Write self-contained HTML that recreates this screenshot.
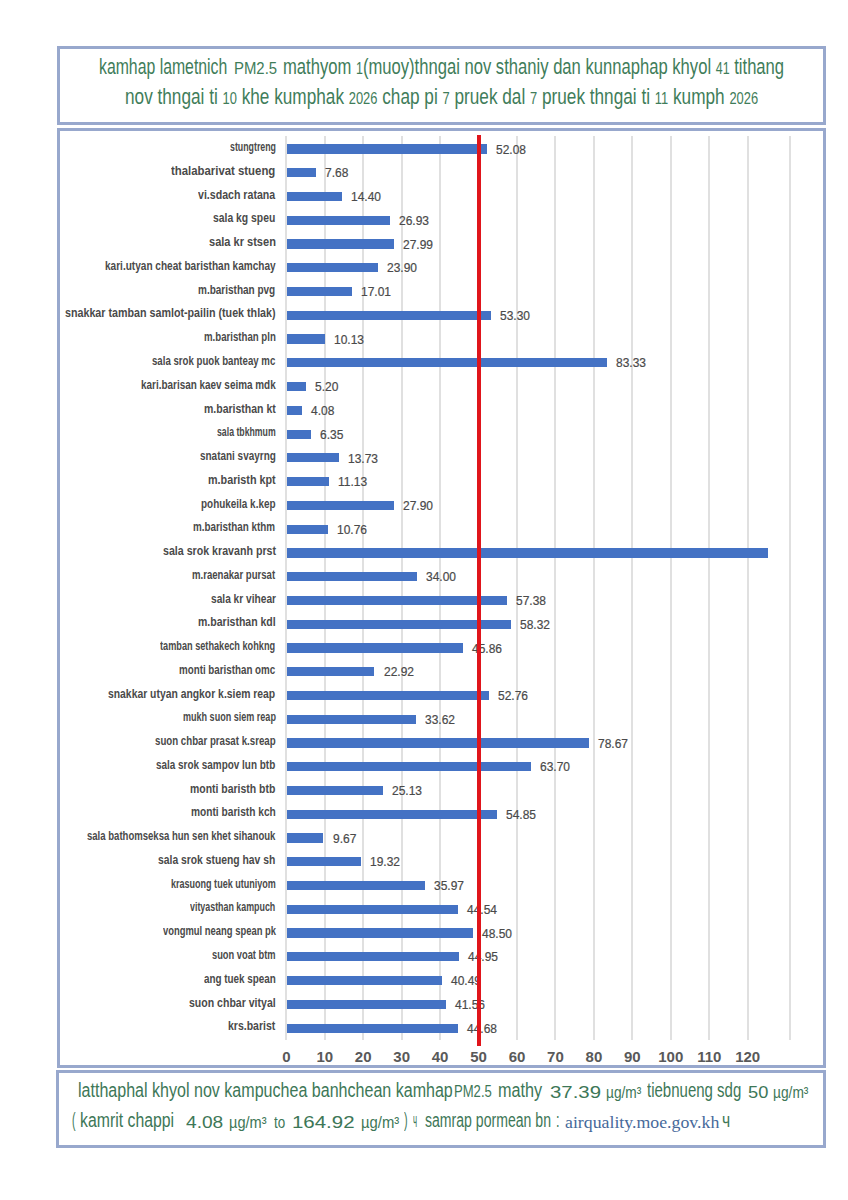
<!DOCTYPE html><html><head><meta charset="utf-8"><title>PM2.5 hourly average</title><style>
*{margin:0;padding:0;box-sizing:border-box}
html,body{width:848px;height:1200px;background:#fff;overflow:hidden}
body{position:relative;font-family:"Liberation Sans",sans-serif}
.box{position:absolute;border:3.5px solid #98a8cd}
.s{position:absolute;white-space:nowrap;transform-origin:0 0}
.gl{position:absolute;top:136px;height:904px;width:2px;background:#e0e0e0}
.d{font-size:0.75em}
.bar{position:absolute;height:9.2px;background:#4472c4}
</style></head><body>
<div class="box" style="left:57px;top:46px;width:769px;height:78.5px"></div>
<div class="box" style="left:57px;top:128px;width:769px;height:940px;border-width:3px"></div>
<div class="box" style="left:56px;top:1070px;width:770px;height:78px;border-width:3px"></div>
<div id="s1" class="s" style="left:98.80px;top:53.20px;font-size:16.00px;line-height:19.20px;color:#3f7d5a;transform:scale(0.9881,1.4000);">kamhap lametnich</div>
<div id="s2" class="s" style="left:233.60px;top:57.93px;font-size:17.40px;line-height:20.88px;color:#3f7d5a;transform:scale(0.8574,1.0000);">PM2.5</div>
<div id="s3" class="s" style="left:283.20px;top:53.20px;font-size:16.00px;line-height:19.20px;color:#3f7d5a;transform:scale(1.0384,1.4000);">mathyom <span class=d>1</span>(muoy)thngai nov sthaniy dan kunnaphap khyol <span class=d>41</span> tithang</div>
<div id="s4" class="s" style="left:124.70px;top:82.50px;font-size:16.00px;line-height:19.20px;color:#3f7d5a;transform:scale(1.0750,1.4000);">nov thngai ti <span class=d>10</span> khe kumphak <span class=d>2026</span> chap pi <span class=d>7</span> pruek dal <span class=d>7</span> pruek thngai ti <span class=d>11</span> kumph <span class=d>2026</span></div>
<div class="gl" style="left:285.30px"></div>
<div class="gl" style="left:323.75px"></div>
<div class="gl" style="left:362.20px"></div>
<div class="gl" style="left:400.65px"></div>
<div class="gl" style="left:439.10px"></div>
<div class="gl" style="left:477.55px"></div>
<div class="gl" style="left:516.00px"></div>
<div class="gl" style="left:554.45px"></div>
<div class="gl" style="left:592.90px"></div>
<div class="gl" style="left:631.35px"></div>
<div class="gl" style="left:669.80px"></div>
<div class="gl" style="left:708.25px"></div>
<div class="gl" style="left:746.70px"></div>
<div class="gl" style="left:789px"></div>
<div class="bar" style="left:286.80px;top:144.40px;width:199.75px"></div>
<div id="s5" class="s" style="left:495.75px;top:142.64px;font-size:12.00px;line-height:14.40px;color:#4a4a4a;-webkit-text-stroke:0.20px #4a4a4a;transform:scale(0.9995,1.0000);">52.08</div>
<div id="s6" class="s" style="left:229.50px;top:140.14px;font-size:12.00px;line-height:14.40px;color:#4a4a4a;font-weight:bold;transform:scale(0.7340,1.0000);">stungtreng</div>
<div class="bar" style="left:286.80px;top:168.16px;width:29.03px"></div>
<div id="s7" class="s" style="left:325.03px;top:166.40px;font-size:12.00px;line-height:14.40px;color:#4a4a4a;-webkit-text-stroke:0.20px #4a4a4a;transform:scale(0.9993,1.0000);">7.68</div>
<div id="s8" class="s" style="left:171.20px;top:163.90px;font-size:12.00px;line-height:14.40px;color:#4a4a4a;font-weight:bold;transform:scale(0.9479,1.0000);">thalabarivat stueng</div>
<div class="bar" style="left:286.80px;top:191.92px;width:54.87px"></div>
<div id="s9" class="s" style="left:350.87px;top:190.16px;font-size:12.00px;line-height:14.40px;color:#4a4a4a;-webkit-text-stroke:0.20px #4a4a4a;transform:scale(0.9995,1.0000);">14.40</div>
<div id="s10" class="s" style="left:198.30px;top:187.66px;font-size:12.00px;line-height:14.40px;color:#4a4a4a;font-weight:bold;transform:scale(0.8835,1.0000);">vi.sdach ratana</div>
<div class="bar" style="left:286.80px;top:215.68px;width:103.05px"></div>
<div id="s11" class="s" style="left:399.05px;top:213.92px;font-size:12.00px;line-height:14.40px;color:#4a4a4a;-webkit-text-stroke:0.20px #4a4a4a;transform:scale(0.9995,1.0000);">26.93</div>
<div id="s12" class="s" style="left:213.20px;top:211.42px;font-size:12.00px;line-height:14.40px;color:#4a4a4a;font-weight:bold;transform:scale(0.8647,1.0000);">sala kg speu</div>
<div class="bar" style="left:286.80px;top:239.44px;width:107.12px"></div>
<div id="s13" class="s" style="left:403.12px;top:237.68px;font-size:12.00px;line-height:14.40px;color:#4a4a4a;-webkit-text-stroke:0.20px #4a4a4a;transform:scale(0.9995,1.0000);">27.99</div>
<div id="s14" class="s" style="left:208.60px;top:235.18px;font-size:12.00px;line-height:14.40px;color:#4a4a4a;font-weight:bold;transform:scale(0.9200,1.0000);">sala kr stsen</div>
<div class="bar" style="left:286.80px;top:263.20px;width:91.40px"></div>
<div id="s15" class="s" style="left:387.40px;top:261.44px;font-size:12.00px;line-height:14.40px;color:#4a4a4a;-webkit-text-stroke:0.20px #4a4a4a;transform:scale(0.9995,1.0000);">23.90</div>
<div id="s16" class="s" style="left:104.80px;top:258.94px;font-size:12.00px;line-height:14.40px;color:#4a4a4a;font-weight:bold;transform:scale(0.8391,1.0000);">kari.utyan cheat baristhan kamchay</div>
<div class="bar" style="left:286.80px;top:286.96px;width:64.90px"></div>
<div id="s17" class="s" style="left:360.90px;top:285.20px;font-size:12.00px;line-height:14.40px;color:#4a4a4a;-webkit-text-stroke:0.20px #4a4a4a;transform:scale(0.9995,1.0000);">17.01</div>
<div id="s18" class="s" style="left:198.30px;top:282.70px;font-size:12.00px;line-height:14.40px;color:#4a4a4a;font-weight:bold;transform:scale(0.8329,1.0000);">m.baristhan pvg</div>
<div class="bar" style="left:286.80px;top:310.72px;width:204.44px"></div>
<div id="s19" class="s" style="left:500.44px;top:308.96px;font-size:12.00px;line-height:14.40px;color:#4a4a4a;-webkit-text-stroke:0.20px #4a4a4a;transform:scale(0.9995,1.0000);">53.30</div>
<div id="s20" class="s" style="left:64.90px;top:306.46px;font-size:12.00px;line-height:14.40px;color:#4a4a4a;font-weight:bold;transform:scale(0.8921,1.0000);">snakkar tamban samlot-pailin (tuek thlak)</div>
<div class="bar" style="left:286.80px;top:334.48px;width:38.45px"></div>
<div id="s21" class="s" style="left:334.45px;top:332.72px;font-size:12.00px;line-height:14.40px;color:#4a4a4a;-webkit-text-stroke:0.20px #4a4a4a;transform:scale(0.9995,1.0000);">10.13</div>
<div id="s22" class="s" style="left:203.70px;top:330.22px;font-size:12.00px;line-height:14.40px;color:#4a4a4a;font-weight:bold;transform:scale(0.8036,1.0000);">m.baristhan pln</div>
<div class="bar" style="left:286.80px;top:358.24px;width:319.90px"></div>
<div id="s23" class="s" style="left:615.90px;top:356.48px;font-size:12.00px;line-height:14.40px;color:#4a4a4a;-webkit-text-stroke:0.20px #4a4a4a;transform:scale(0.9995,1.0000);">83.33</div>
<div id="s24" class="s" style="left:152.20px;top:353.98px;font-size:12.00px;line-height:14.40px;color:#4a4a4a;font-weight:bold;transform:scale(0.8037,1.0000);">sala srok puok banteay mc</div>
<div class="bar" style="left:286.80px;top:382.00px;width:19.49px"></div>
<div id="s25" class="s" style="left:315.49px;top:380.24px;font-size:12.00px;line-height:14.40px;color:#4a4a4a;-webkit-text-stroke:0.20px #4a4a4a;transform:scale(0.9993,1.0000);">5.20</div>
<div id="s26" class="s" style="left:140.80px;top:377.74px;font-size:12.00px;line-height:14.40px;color:#4a4a4a;font-weight:bold;transform:scale(0.8275,1.0000);">kari.barisan kaev seima mdk</div>
<div class="bar" style="left:286.80px;top:405.76px;width:15.19px"></div>
<div id="s27" class="s" style="left:311.19px;top:404.00px;font-size:12.00px;line-height:14.40px;color:#4a4a4a;-webkit-text-stroke:0.20px #4a4a4a;transform:scale(0.9993,1.0000);">4.08</div>
<div id="s28" class="s" style="left:203.70px;top:401.50px;font-size:12.00px;line-height:14.40px;color:#4a4a4a;font-weight:bold;transform:scale(0.8753,1.0000);">m.baristhan kt</div>
<div class="bar" style="left:286.80px;top:429.52px;width:23.92px"></div>
<div id="s29" class="s" style="left:319.92px;top:427.76px;font-size:12.00px;line-height:14.40px;color:#4a4a4a;-webkit-text-stroke:0.20px #4a4a4a;transform:scale(0.9993,1.0000);">6.35</div>
<div id="s30" class="s" style="left:216.80px;top:425.26px;font-size:12.00px;line-height:14.40px;color:#4a4a4a;font-weight:bold;transform:scale(0.7274,1.0000);">sala tbkhmum</div>
<div class="bar" style="left:286.80px;top:453.28px;width:52.29px"></div>
<div id="s31" class="s" style="left:348.29px;top:451.52px;font-size:12.00px;line-height:14.40px;color:#4a4a4a;-webkit-text-stroke:0.20px #4a4a4a;transform:scale(0.9995,1.0000);">13.73</div>
<div id="s32" class="s" style="left:199.70px;top:449.02px;font-size:12.00px;line-height:14.40px;color:#4a4a4a;font-weight:bold;transform:scale(0.8295,1.0000);">snatani svayrng</div>
<div class="bar" style="left:286.80px;top:477.04px;width:42.29px"></div>
<div id="s33" class="s" style="left:338.29px;top:475.28px;font-size:12.00px;line-height:14.40px;color:#4a4a4a;-webkit-text-stroke:0.20px #4a4a4a;transform:scale(0.9995,1.0000);">11.13</div>
<div id="s34" class="s" style="left:207.80px;top:472.78px;font-size:12.00px;line-height:14.40px;color:#4a4a4a;font-weight:bold;transform:scale(0.8984,1.0000);">m.baristh kpt</div>
<div class="bar" style="left:286.80px;top:500.80px;width:106.78px"></div>
<div id="s35" class="s" style="left:402.78px;top:499.04px;font-size:12.00px;line-height:14.40px;color:#4a4a4a;-webkit-text-stroke:0.20px #4a4a4a;transform:scale(0.9995,1.0000);">27.90</div>
<div id="s36" class="s" style="left:201.00px;top:496.54px;font-size:12.00px;line-height:14.40px;color:#4a4a4a;font-weight:bold;transform:scale(0.8275,1.0000);">pohukeila k.kep</div>
<div class="bar" style="left:286.80px;top:524.56px;width:40.87px"></div>
<div id="s37" class="s" style="left:336.87px;top:522.80px;font-size:12.00px;line-height:14.40px;color:#4a4a4a;-webkit-text-stroke:0.20px #4a4a4a;transform:scale(0.9995,1.0000);">10.76</div>
<div id="s38" class="s" style="left:193.40px;top:520.30px;font-size:12.00px;line-height:14.40px;color:#4a4a4a;font-weight:bold;transform:scale(0.8207,1.0000);">m.baristhan kthm</div>
<div class="bar" style="left:286.80px;top:548.32px;width:481.10px"></div>
<div id="s39" class="s" style="left:162.50px;top:544.06px;font-size:12.00px;line-height:14.40px;color:#4a4a4a;font-weight:bold;transform:scale(0.8869,1.0000);">sala srok kravanh prst</div>
<div class="bar" style="left:286.80px;top:572.08px;width:130.23px"></div>
<div id="s40" class="s" style="left:426.23px;top:570.32px;font-size:12.00px;line-height:14.40px;color:#4a4a4a;-webkit-text-stroke:0.20px #4a4a4a;transform:scale(0.9995,1.0000);">34.00</div>
<div id="s41" class="s" style="left:192.40px;top:567.82px;font-size:12.00px;line-height:14.40px;color:#4a4a4a;font-weight:bold;transform:scale(0.7986,1.0000);">m.raenakar pursat</div>
<div class="bar" style="left:286.80px;top:595.84px;width:220.13px"></div>
<div id="s42" class="s" style="left:516.13px;top:594.08px;font-size:12.00px;line-height:14.40px;color:#4a4a4a;-webkit-text-stroke:0.20px #4a4a4a;transform:scale(0.9995,1.0000);">57.38</div>
<div id="s43" class="s" style="left:210.50px;top:591.58px;font-size:12.00px;line-height:14.40px;color:#4a4a4a;font-weight:bold;transform:scale(0.8471,1.0000);">sala kr vihear</div>
<div class="bar" style="left:286.80px;top:619.60px;width:223.74px"></div>
<div id="s44" class="s" style="left:519.74px;top:617.84px;font-size:12.00px;line-height:14.40px;color:#4a4a4a;-webkit-text-stroke:0.20px #4a4a4a;transform:scale(0.9995,1.0000);">58.32</div>
<div id="s45" class="s" style="left:197.80px;top:615.34px;font-size:12.00px;line-height:14.40px;color:#4a4a4a;font-weight:bold;transform:scale(0.8761,1.0000);">m.baristhan kdl</div>
<div class="bar" style="left:286.80px;top:643.36px;width:175.83px"></div>
<div id="s46" class="s" style="left:471.83px;top:641.60px;font-size:12.00px;line-height:14.40px;color:#4a4a4a;-webkit-text-stroke:0.20px #4a4a4a;transform:scale(0.9995,1.0000);">45.86</div>
<div id="s47" class="s" style="left:160.40px;top:639.10px;font-size:12.00px;line-height:14.40px;color:#4a4a4a;font-weight:bold;transform:scale(0.7637,1.0000);">tamban sethakech kohkng</div>
<div class="bar" style="left:286.80px;top:667.12px;width:87.63px"></div>
<div id="s48" class="s" style="left:383.63px;top:665.36px;font-size:12.00px;line-height:14.40px;color:#4a4a4a;-webkit-text-stroke:0.20px #4a4a4a;transform:scale(0.9995,1.0000);">22.92</div>
<div id="s49" class="s" style="left:179.30px;top:662.86px;font-size:12.00px;line-height:14.40px;color:#4a4a4a;font-weight:bold;transform:scale(0.8151,1.0000);">monti baristhan omc</div>
<div class="bar" style="left:286.80px;top:690.88px;width:202.36px"></div>
<div id="s50" class="s" style="left:498.36px;top:689.12px;font-size:12.00px;line-height:14.40px;color:#4a4a4a;-webkit-text-stroke:0.20px #4a4a4a;transform:scale(0.9995,1.0000);">52.76</div>
<div id="s51" class="s" style="left:108.30px;top:686.62px;font-size:12.00px;line-height:14.40px;color:#4a4a4a;font-weight:bold;transform:scale(0.8644,1.0000);">snakkar utyan angkor k.siem reap</div>
<div class="bar" style="left:286.80px;top:714.64px;width:128.77px"></div>
<div id="s52" class="s" style="left:424.77px;top:712.88px;font-size:12.00px;line-height:14.40px;color:#4a4a4a;-webkit-text-stroke:0.20px #4a4a4a;transform:scale(0.9995,1.0000);">33.62</div>
<div id="s53" class="s" style="left:182.60px;top:710.38px;font-size:12.00px;line-height:14.40px;color:#4a4a4a;font-weight:bold;transform:scale(0.7530,1.0000);">mukh suon siem reap</div>
<div class="bar" style="left:286.80px;top:738.40px;width:301.99px"></div>
<div id="s54" class="s" style="left:597.99px;top:736.64px;font-size:12.00px;line-height:14.40px;color:#4a4a4a;-webkit-text-stroke:0.20px #4a4a4a;transform:scale(0.9995,1.0000);">78.67</div>
<div id="s55" class="s" style="left:154.90px;top:734.14px;font-size:12.00px;line-height:14.40px;color:#4a4a4a;font-weight:bold;transform:scale(0.8073,1.0000);">suon chbar prasat k.sreap</div>
<div class="bar" style="left:286.80px;top:762.16px;width:244.43px"></div>
<div id="s56" class="s" style="left:540.43px;top:760.40px;font-size:12.00px;line-height:14.40px;color:#4a4a4a;-webkit-text-stroke:0.20px #4a4a4a;transform:scale(0.9995,1.0000);">63.70</div>
<div id="s57" class="s" style="left:156.30px;top:757.90px;font-size:12.00px;line-height:14.40px;color:#4a4a4a;font-weight:bold;transform:scale(0.8275,1.0000);">sala srok sampov lun btb</div>
<div class="bar" style="left:286.80px;top:785.92px;width:96.12px"></div>
<div id="s58" class="s" style="left:392.12px;top:784.16px;font-size:12.00px;line-height:14.40px;color:#4a4a4a;-webkit-text-stroke:0.20px #4a4a4a;transform:scale(0.9995,1.0000);">25.13</div>
<div id="s59" class="s" style="left:190.20px;top:781.66px;font-size:12.00px;line-height:14.40px;color:#4a4a4a;font-weight:bold;transform:scale(0.8704,1.0000);">monti baristh btb</div>
<div class="bar" style="left:286.80px;top:809.68px;width:210.40px"></div>
<div id="s60" class="s" style="left:506.40px;top:807.92px;font-size:12.00px;line-height:14.40px;color:#4a4a4a;-webkit-text-stroke:0.20px #4a4a4a;transform:scale(0.9995,1.0000);">54.85</div>
<div id="s61" class="s" style="left:190.70px;top:805.42px;font-size:12.00px;line-height:14.40px;color:#4a4a4a;font-weight:bold;transform:scale(0.8479,1.0000);">monti baristh kch</div>
<div class="bar" style="left:286.80px;top:833.44px;width:36.68px"></div>
<div id="s62" class="s" style="left:332.68px;top:831.68px;font-size:12.00px;line-height:14.40px;color:#4a4a4a;-webkit-text-stroke:0.20px #4a4a4a;transform:scale(0.9993,1.0000);">9.67</div>
<div id="s63" class="s" style="left:87.10px;top:829.18px;font-size:12.00px;line-height:14.40px;color:#4a4a4a;font-weight:bold;transform:scale(0.7958,1.0000);">sala bathomseksa hun sen khet sihanouk</div>
<div class="bar" style="left:286.80px;top:857.20px;width:73.79px"></div>
<div id="s64" class="s" style="left:369.79px;top:855.44px;font-size:12.00px;line-height:14.40px;color:#4a4a4a;-webkit-text-stroke:0.20px #4a4a4a;transform:scale(0.9995,1.0000);">19.32</div>
<div id="s65" class="s" style="left:158.20px;top:852.94px;font-size:12.00px;line-height:14.40px;color:#4a4a4a;font-weight:bold;transform:scale(0.8621,1.0000);">sala srok stueng hav sh</div>
<div class="bar" style="left:286.80px;top:880.96px;width:137.80px"></div>
<div id="s66" class="s" style="left:433.80px;top:879.20px;font-size:12.00px;line-height:14.40px;color:#4a4a4a;-webkit-text-stroke:0.20px #4a4a4a;transform:scale(0.9995,1.0000);">35.97</div>
<div id="s67" class="s" style="left:170.70px;top:876.70px;font-size:12.00px;line-height:14.40px;color:#4a4a4a;font-weight:bold;transform:scale(0.7520,1.0000);">krasuong tuek utuniyom</div>
<div class="bar" style="left:286.80px;top:904.72px;width:170.76px"></div>
<div id="s68" class="s" style="left:466.76px;top:902.96px;font-size:12.00px;line-height:14.40px;color:#4a4a4a;-webkit-text-stroke:0.20px #4a4a4a;transform:scale(0.9995,1.0000);">44.54</div>
<div id="s69" class="s" style="left:190.20px;top:900.46px;font-size:12.00px;line-height:14.40px;color:#4a4a4a;font-weight:bold;transform:scale(0.7393,1.0000);">vityasthan kampuch</div>
<div class="bar" style="left:286.80px;top:928.48px;width:185.98px"></div>
<div id="s70" class="s" style="left:481.98px;top:926.72px;font-size:12.00px;line-height:14.40px;color:#4a4a4a;-webkit-text-stroke:0.20px #4a4a4a;transform:scale(0.9995,1.0000);">48.50</div>
<div id="s71" class="s" style="left:162.50px;top:924.22px;font-size:12.00px;line-height:14.40px;color:#4a4a4a;font-weight:bold;transform:scale(0.7846,1.0000);">vongmul neang spean pk</div>
<div class="bar" style="left:286.80px;top:952.24px;width:172.33px"></div>
<div id="s72" class="s" style="left:468.33px;top:950.48px;font-size:12.00px;line-height:14.40px;color:#4a4a4a;-webkit-text-stroke:0.20px #4a4a4a;transform:scale(0.9995,1.0000);">44.95</div>
<div id="s73" class="s" style="left:211.90px;top:947.98px;font-size:12.00px;line-height:14.40px;color:#4a4a4a;font-weight:bold;transform:scale(0.7755,1.0000);">suon voat btm</div>
<div class="bar" style="left:286.80px;top:976.00px;width:155.18px"></div>
<div id="s74" class="s" style="left:451.18px;top:974.24px;font-size:12.00px;line-height:14.40px;color:#4a4a4a;-webkit-text-stroke:0.20px #4a4a4a;transform:scale(0.9995,1.0000);">40.49</div>
<div id="s75" class="s" style="left:203.70px;top:971.74px;font-size:12.00px;line-height:14.40px;color:#4a4a4a;font-weight:bold;transform:scale(0.8219,1.0000);">ang tuek spean</div>
<div class="bar" style="left:286.80px;top:999.76px;width:159.30px"></div>
<div id="s76" class="s" style="left:455.30px;top:998.00px;font-size:12.00px;line-height:14.40px;color:#4a4a4a;-webkit-text-stroke:0.20px #4a4a4a;transform:scale(0.9995,1.0000);">41.56</div>
<div id="s77" class="s" style="left:188.80px;top:995.50px;font-size:12.00px;line-height:14.40px;color:#4a4a4a;font-weight:bold;transform:scale(0.8784,1.0000);">suon chbar vityal</div>
<div class="bar" style="left:286.80px;top:1023.52px;width:171.29px"></div>
<div id="s78" class="s" style="left:467.29px;top:1021.76px;font-size:12.00px;line-height:14.40px;color:#4a4a4a;-webkit-text-stroke:0.20px #4a4a4a;transform:scale(0.9995,1.0000);">44.68</div>
<div id="s79" class="s" style="left:228.20px;top:1019.26px;font-size:12.00px;line-height:14.40px;color:#4a4a4a;font-weight:bold;transform:scale(0.8754,1.0000);">krs.barist</div>
<div style="position:absolute;left:476.7px;top:135px;width:4.1px;height:911px;background:#e0151b"></div>
<div class="s" style="left:266.30px;top:1048.3px;width:40px;text-align:center;font-size:15px;line-height:17px;font-weight:bold;color:#595959">0</div>
<div class="s" style="left:304.75px;top:1048.3px;width:40px;text-align:center;font-size:15px;line-height:17px;font-weight:bold;color:#595959">10</div>
<div class="s" style="left:343.20px;top:1048.3px;width:40px;text-align:center;font-size:15px;line-height:17px;font-weight:bold;color:#595959">20</div>
<div class="s" style="left:381.65px;top:1048.3px;width:40px;text-align:center;font-size:15px;line-height:17px;font-weight:bold;color:#595959">30</div>
<div class="s" style="left:420.10px;top:1048.3px;width:40px;text-align:center;font-size:15px;line-height:17px;font-weight:bold;color:#595959">40</div>
<div class="s" style="left:458.55px;top:1048.3px;width:40px;text-align:center;font-size:15px;line-height:17px;font-weight:bold;color:#595959">50</div>
<div class="s" style="left:497.00px;top:1048.3px;width:40px;text-align:center;font-size:15px;line-height:17px;font-weight:bold;color:#595959">60</div>
<div class="s" style="left:535.45px;top:1048.3px;width:40px;text-align:center;font-size:15px;line-height:17px;font-weight:bold;color:#595959">70</div>
<div class="s" style="left:573.90px;top:1048.3px;width:40px;text-align:center;font-size:15px;line-height:17px;font-weight:bold;color:#595959">80</div>
<div class="s" style="left:612.35px;top:1048.3px;width:40px;text-align:center;font-size:15px;line-height:17px;font-weight:bold;color:#595959">90</div>
<div class="s" style="left:650.80px;top:1048.3px;width:40px;text-align:center;font-size:15px;line-height:17px;font-weight:bold;color:#595959">100</div>
<div class="s" style="left:689.25px;top:1048.3px;width:40px;text-align:center;font-size:15px;line-height:17px;font-weight:bold;color:#595959">110</div>
<div class="s" style="left:727.70px;top:1048.3px;width:40px;text-align:center;font-size:15px;line-height:17px;font-weight:bold;color:#595959">120</div>
<div id="s80" class="s" style="left:77.70px;top:1078.20px;font-size:14.50px;line-height:17.40px;color:#3d7757;transform:scale(1.1070,1.4500);">latthaphal khyol nov kampuchea banhchean kamhap</div>
<div id="s81" class="s" style="left:454.00px;top:1082.48px;font-size:16.50px;line-height:19.80px;color:#3d7757;transform:scale(0.7927,1.0000);">PM2.5</div>
<div id="s82" class="s" style="left:497.70px;top:1078.20px;font-size:14.50px;line-height:17.40px;color:#3d7757;transform:scale(1.1190,1.4500);">mathy</div>
<div id="s83" class="s" style="left:550.20px;top:1082.96px;font-size:16.00px;line-height:19.20px;color:#3d7757;transform:scale(1.2735,1.0000);">37.39</div>
<div id="s84" class="s" style="left:606.00px;top:1082.96px;font-size:16.00px;line-height:19.20px;color:#3d7757;transform:scale(0.8564,1.0000);">µg/m³</div>
<div id="s85" class="s" style="left:647.20px;top:1078.20px;font-size:14.50px;line-height:17.40px;color:#3d7757;transform:scale(1.0350,1.4500);">tiebnueng sdg</div>
<div id="s86" class="s" style="left:747.60px;top:1082.96px;font-size:16.00px;line-height:19.20px;color:#3d7757;transform:scale(1.1406,1.0000);">50</div>
<div id="s87" class="s" style="left:773.00px;top:1082.96px;font-size:16.00px;line-height:19.20px;color:#3d7757;transform:scale(0.8588,1.0000);">µg/m³</div>
<div id="s88" class="s" style="left:71.50px;top:1108.30px;font-size:14.50px;line-height:17.40px;color:#3d7757;transform:scale(0.7226,1.4500);">(</div>
<div id="s89" class="s" style="left:80.30px;top:1108.30px;font-size:14.50px;line-height:17.40px;color:#3d7757;transform:scale(1.0912,1.4500);">kamrit chappi</div>
<div id="s90" class="s" style="left:185.60px;top:1113.06px;font-size:16.00px;line-height:19.20px;color:#3d7757;transform:scale(1.1946,1.0000);">4.08</div>
<div id="s91" class="s" style="left:229.30px;top:1113.06px;font-size:16.00px;line-height:19.20px;color:#3d7757;transform:scale(0.9098,1.0000);">µg/m³</div>
<div id="s92" class="s" style="left:273.80px;top:1113.06px;font-size:16.00px;line-height:19.20px;color:#3d7757;transform:scale(0.8393,1.0000);">to</div>
<div id="s93" class="s" style="left:292.10px;top:1113.06px;font-size:16.00px;line-height:19.20px;color:#3d7757;transform:scale(1.2771,1.0000);">164.92</div>
<div id="s94" class="s" style="left:361.00px;top:1113.06px;font-size:16.00px;line-height:19.20px;color:#3d7757;transform:scale(0.9268,1.0000);">µg/m³</div>
<div id="s95" class="s" style="left:403.90px;top:1108.30px;font-size:14.50px;line-height:17.40px;color:#3d7757;transform:scale(0.7432,1.4500);">)</div>
<div id="s96" class="s" style="left:412.80px;top:1108.30px;font-size:14.50px;line-height:17.40px;color:#3d7757;transform:scale(0.5421,1.4500);">ч</div>
<div id="s97" class="s" style="left:425.10px;top:1108.30px;font-size:14.50px;line-height:17.40px;color:#3d7757;transform:scale(0.9710,1.4500);">samrap pormean bn</div>
<div id="s98" class="s" style="left:555.80px;top:1108.30px;font-size:14.50px;line-height:17.40px;color:#3d7757;transform:scale(0.8682,1.4500);">:</div>
<div id="s99" class="s" style="left:565.30px;top:1111.64px;font-size:17.50px;line-height:21.00px;color:#46699a;font-family:'Liberation Serif',serif;transform:scale(1.0165,1.0000);">airquality.moe.gov.kh</div>
<div id="s100" class="s" style="left:722.00px;top:1108.30px;font-size:14.50px;line-height:17.40px;color:#3d7757;transform:scale(1.0843,1.4500);">ч</div>
</body></html>
